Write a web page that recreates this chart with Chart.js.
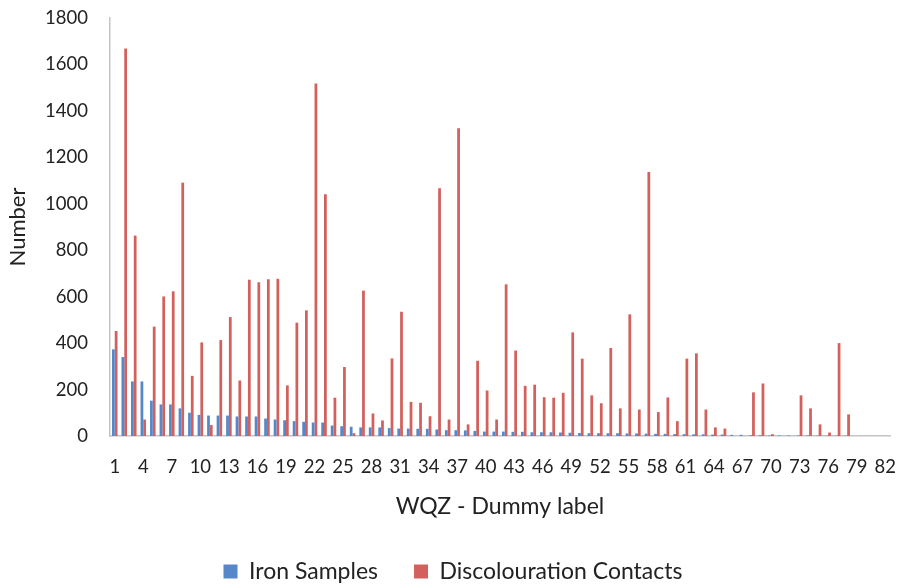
<!DOCTYPE html>
<html lang="en">
<head>
   <meta charset="UTF-8">
   <title>Iron Samples vs Discolouration Contacts</title>
   <script src="https://cdn.jsdelivr.net/npm/chart.js@4.4.1/dist/chart.umd.min.js"></script>
   <style>
       html, body {
           margin: 0;
           padding: 0;
           background: #ffffff;
       }
       .chart-box {
           width: 902px;
           height: 588px;
       }
   </style>
</head>
<body>
   <div class="chart-box">
       <canvas id="wqzChart" width="902" height="588"></canvas>
   </div>

   <script>
       // WQZ categories 1..82
       const categories = [
           '1','2','3','4','5','6','7','8','9','10','11','12','13','14','15','16','17','18','19','20',
           '21','22','23','24','25','26','27','28','29','30','31','32','33','34','35','36','37','38','39','40',
           '41','42','43','44','45','46','47','48','49','50','51','52','53','54','55','56','57','58','59','60',
           '61','62','63','64','65','66','67','68','69','70','71','72','73','74','75','76','77','78','79','80',
           '81','82'
       ];

       const ironSamples = [
           373, 340, 235, 235, 152, 136, 136, 119, 100, 91,
           88, 88, 88, 84, 84, 84, 75, 71, 68, 64,
           61, 58, 58, 45, 42, 40, 37, 37, 37, 34,
           32, 32, 31, 31, 28, 25, 25, 24, 22, 19,
           19, 19, 18, 18, 16, 16, 16, 15, 14, 13,
           12, 12, 12, 12, 11, 11, 10, 9, 9, 8,
           8, 7, 7, 6, 6, 5, 5, 3, 3, 2,
           2, 2, 2, 2, 1, 1, 1, 1, 0, 0,
           0, 0
       ];

       const discolourationContacts = [
           452, 1669, 863, 71, 471, 601, 623, 1091, 259, 403,
           47, 413, 512, 239, 673, 662, 675, 677, 218, 488,
           541, 1518, 1041, 165, 297, 12, 626, 97, 67, 334,
           535, 147, 143, 85, 1067, 71, 1325, 50, 324, 196,
           71, 653, 368, 216, 221, 167, 165, 186, 446, 333,
           175, 141, 379, 119, 524, 114, 1137, 103, 166, 64,
           333, 356, 114, 37, 32, 0, 0, 188, 226, 8,
           0, 0, 175, 119, 50, 15, 400, 93, 0, 0,
           0, 0
       ];

       const yTicks = [0, 200, 400, 600, 800, 1000, 1200, 1400, 1600, 1800];

       const fontFamily = 'Lato, "Open Sans", sans-serif';
       const textColor = '#222222';
       const axisColor = '#c4c4c4';

       const ctx = document.getElementById('wqzChart').getContext('2d');
       new Chart(ctx, {
           type: 'bar',
           data: {
               labels: categories,
               datasets: [
                   {
                       label: 'Iron Samples',
                       data: ironSamples,
                       backgroundColor: '#5687c8',
                       borderWidth: 0,
                       categoryPercentage: 0.58,
                       barPercentage: 1.0
                   },
                   {
                       label: 'Discolouration Contacts',
                       data: discolourationContacts,
                       backgroundColor: '#d2605c',
                       borderWidth: 0,
                       categoryPercentage: 0.58,
                       barPercentage: 1.0
                   }
               ]
           },
           options: {
               responsive: false,
               animation: false,
               layout: {
                   padding: { left: 16, right: 12, top: 18, bottom: 0 }
               },
               plugins: {
                   tooltip: { enabled: false },
                   legend: {
                       position: 'bottom',
                       maxHeight: 64,
                       labels: {
                           boxWidth: 14,
                           boxHeight: 14,
                           padding: 36,
                           color: textColor,
                           font: { family: fontFamily, size: 23 }
                       }
                   }
               },
               scales: {
                   x: {
                       // tick marks hidden, their length only spaces the labels
                       grid: { display: false, drawTicks: true, tickLength: 20 },
                       border: { display: true, color: axisColor, width: 1.5 },
                       ticks: {
                           autoSkip: false,
                           maxRotation: 0,
                           minRotation: 0,
                           padding: 0,
                           color: textColor,
                           font: { family: fontFamily, size: 18.5 },
                           callback: function(value, index) {
                               return index % 3 === 0 ? categories[index] : '';
                           }
                       },
                       title: {
                           display: true,
                           text: 'WQZ - Dummy label',
                           color: textColor,
                           font: { family: fontFamily, size: 23 },
                           padding: { top: 0, bottom: 4 }
                       },
                       afterFit: function(scale) {
                           scale.height = 88;
                       }
                   },
                   y: {
                       min: 0,
                       max: 1800,
                       grid: { display: false, drawTicks: true, tickLength: 22 },
                       border: { display: true, color: axisColor, width: 1.5 },
                       afterBuildTicks: function(scale) {
                           scale.ticks = yTicks.map(v => ({ value: v }));
                       },
                       ticks: {
                           padding: 0,
                           color: textColor,
                           font: { family: fontFamily, size: 18.5 },
                           callback: function(value) {
                               return String(value);
                           }
                       },
                       title: {
                           display: true,
                           text: 'Number',
                           color: textColor,
                           font: { family: fontFamily, size: 22 },
                           padding: { top: -11, bottom: 0 }
                       },
                       afterFit: function(scale) {
                           scale.width = 94;
                       }
                   }
               }
           }
       });
   </script>
</body>
</html>
